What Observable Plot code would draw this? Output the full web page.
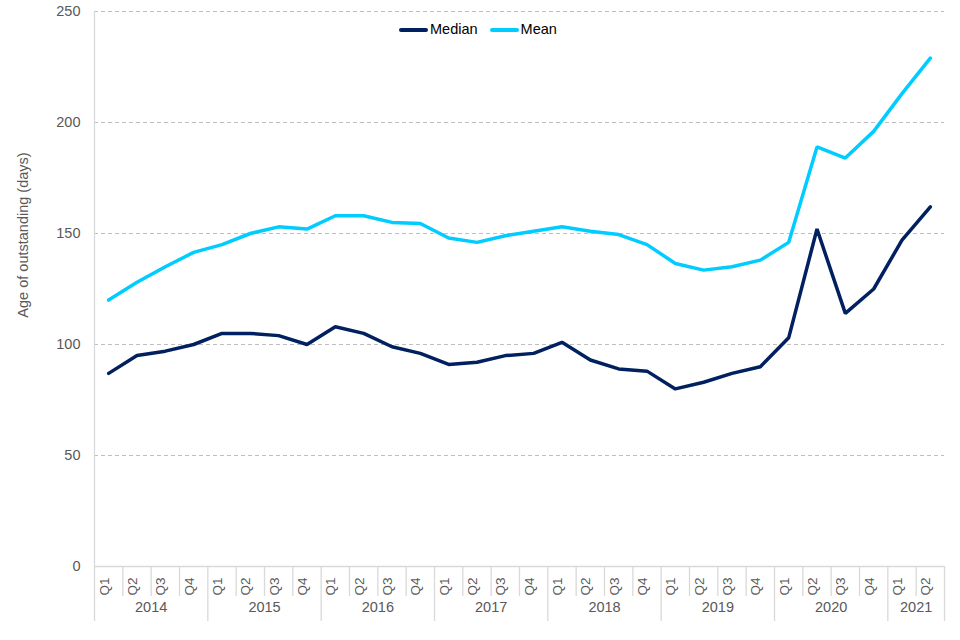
<!DOCTYPE html>
<html><head><meta charset="utf-8">
<script src="https://cdn.jsdelivr.net/npm/d3@7"></script>
<script src="https://cdn.jsdelivr.net/npm/@observablehq/plot@0.6"></script>
<style>
body{margin:0;background:#fff;font-family:"Liberation Sans",Arial,sans-serif}
#wrap{position:relative;width:960px;height:640px}
#legend{position:absolute;top:21px;left:399px;display:flex;align-items:center;font-size:14.5px;line-height:17px;color:#000}
#legend .sw{display:inline-block;width:29px;height:4px;border-radius:2px;margin-right:2px}
#legend .item{display:flex;align-items:center;margin-right:12px}
</style></head><body><div id="wrap"><div id="legend"></div></div>
<script>
const yearLabels = ["2014","2015","2016","2017","2018","2019","2020","2021"];
const quartersPerYear = [4,4,4,4,4,4,4,2];
const quarterNames = ["Q1","Q2","Q3","Q4"];
const medianValues = [87,95,97,100, 105,105,104,100, 108,105,99,96, 91,92,95,96, 101,93,89,88, 80,83,87,90, 103,152,114,125, 147,162];
const meanValues = [120,128,135,141.5, 145,150,153,152, 158,158,155,154.5, 148,146,149,151, 153,151,149.5,145, 136.5,133.5,135,138, 146,189,184,196, 213,229];
const seriesNames = ["Median","Mean"];
const seriesColors = ["#002060","#00ccff"];
const yTicks = [0,50,100,150,200,250];

// build period table
const periods = [];
yearLabels.forEach((y, yi) => {
  for (let q = 0; q < quartersPerYear[yi]; q++) periods.push({year: y, quarter: quarterNames[q]});
});
periods.forEach((p, i) => p.i = i);
const rows = [];
periods.forEach((p, i) => {
  rows.push({i, series: "Median", value: medianValues[i]});
  rows.push({i, series: "Mean", value: meanValues[i]});
});
// year groups
const yearGroups = [];
let start = 0;
yearLabels.forEach((y, yi) => {
  const n = quartersPerYear[yi];
  yearGroups.push({year: y, center: start + (n - 1) / 2, start: start - 0.5, end: start + n - 0.5});
  start += n;
});
const yearBounds = [yearGroups[0].start, ...yearGroups.map(g => g.end)];
const quarterBounds = d3.range(periods.length - 1).map(i => i + 0.5).filter(b => !yearBounds.includes(b));

const W = 960, H = 640, mT = 11, mB = 74, mL = 94, mR = 16;
const frameH = H - mT - mB;
const grey = "#595959";

const chart = Plot.plot({
  width: W, height: H,
  marginTop: mT, marginBottom: mB, marginLeft: mL, marginRight: mR,
  style: {fontFamily: "'Liberation Sans', Arial, sans-serif", fontSize: "14px", color: grey, background: "#fff"},
  x: {type: "linear", domain: [-0.5, periods.length - 0.5], axis: null},
  y: {domain: [0, 250], axis: null},
  color: {domain: seriesNames, range: seriesColors},
  marks: [
    Plot.ruleY(yTicks.filter(t => t > 0), {stroke: "#bfbfbf", strokeWidth: 1, strokeDasharray: "4,3"}),
    Plot.ruleY([0], {stroke: "#d9d9d9", strokeWidth: 1.3}),
    // quarter separators below axis
    Plot.ruleX(quarterBounds, {stroke: "#d9d9d9", strokeWidth: 1.3, insetTop: frameH, insetBottom: -30}),
    // year separators
    Plot.ruleX(yearBounds.slice(1), {stroke: "#d9d9d9", strokeWidth: 1.3, insetTop: frameH, insetBottom: -55}),
    Plot.ruleX(yearBounds.slice(0, 1), {stroke: "#d9d9d9", strokeWidth: 1.3, insetBottom: -55}),
    Plot.text(yTicks, {y: d => d, text: d => String(d), frameAnchor: "left", textAnchor: "end", dx: -14, fill: grey, fontSize: 14.5}),
    Plot.text(periods, {x: "i", text: "quarter", frameAnchor: "bottom", textAnchor: "middle", rotate: -90, dy: 20, fill: grey, fontSize: 13.5}),
    Plot.text(yearGroups, {x: "center", text: "year", frameAnchor: "bottom", textAnchor: "middle", dy: 45, fill: grey, fontSize: 14.5}),
    Plot.text(["Age of outstanding (days)"], {frameAnchor: "left", textAnchor: "middle", rotate: -90, dx: -71, dy: -54, fill: grey, fontSize: 14.5}),
    Plot.line(rows, {x: "i", y: "value", z: "series", stroke: "series", strokeWidth: 3.5, strokeLinejoin: "miter", strokeLinecap: "round"})
  ]
});
document.getElementById("wrap").appendChild(chart);

const legend = document.getElementById("legend");
seriesNames.forEach((s, k) => {
  const item = document.createElement("span");
  item.className = "item";
  item.innerHTML = `<span class="sw" style="background:${seriesColors[k]}"></span>${s}`;
  legend.appendChild(item);
});
</script></body></html>
